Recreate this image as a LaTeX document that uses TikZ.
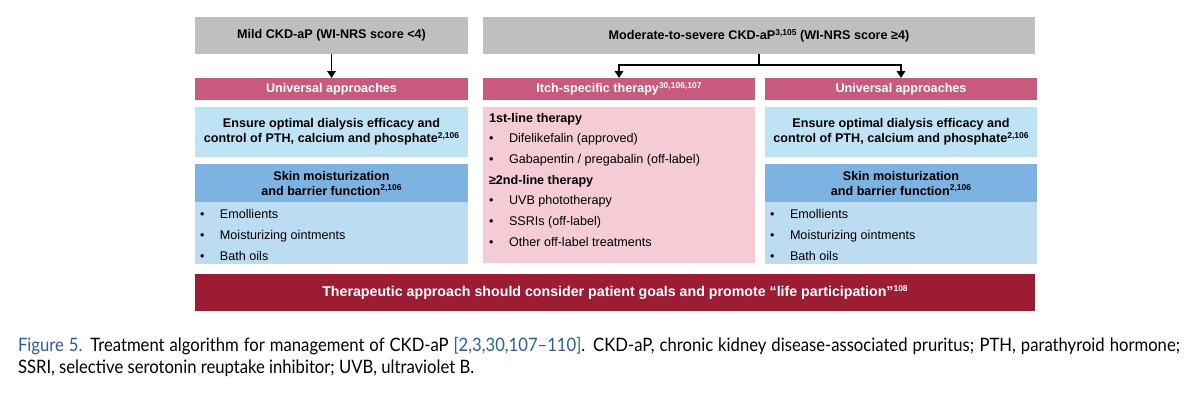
\documentclass[tikz,border=0pt]{standalone}
\usepackage{fontspec}
\setmainfont{Liberation Sans}
\newfontfamily\capfont[FakeStretch=0.9]{Lato}
\usetikzlibrary{arrows.meta}
\definecolor{greybox}{HTML}{BFBFBF}
\definecolor{pinkhead}{HTML}{C85A7D}
\definecolor{lightblue}{HTML}{BEE3F5}
\definecolor{skinblue}{HTML}{7DB3E2}
\definecolor{listblue}{HTML}{BCDCF1}
\definecolor{lightpink}{HTML}{F5CCD5}
\definecolor{darkred}{HTML}{9C1C34}
\definecolor{capblue}{HTML}{2F5DA0}
\newcommand{\supr}[1]{\raisebox{4.2pt}{\fontsize{8.5}{8.5}\selectfont #1}}
\newcommand{\bul}{\makebox[20pt][l]{•}}
\tikzset{
  blk/.style={inner sep=0pt, outer sep=0pt, draw=none},
  greyb/.style={blk, fill=greybox, font=\bfseries\fontsize{12.6}{15}\selectfont},
  headb/.style={blk, fill=pinkhead, text=white, font=\bfseries\fontsize{12.6}{15}\selectfont},
  ensureb/.style={blk, fill=lightblue, align=center, font=\bfseries\fontsize{12.6}{15}\selectfont},
  skinb/.style={blk, fill=skinblue, align=center, font=\bfseries\fontsize{12.6}{15}\selectfont},
  listb/.style={blk, fill=listblue},
  pinkb/.style={blk, fill=lightpink},
  itemtext/.style={blk, align=left, font=\fontsize{12.6}{21}\selectfont},
  pinktext/.style={blk, align=left, font=\fontsize{12.6}{20.7}\selectfont},
  goalb/.style={blk, fill=darkred, text=white, font=\bfseries\fontsize{14.2}{16}\selectfont},
  line/.style={line width=1.9pt, black},
  conn/.style={line, -{Triangle[length=7pt,width=8.5pt]}},
  captext/.style={blk, anchor=base west, font=\capfont\fontsize{18.5}{22}\selectfont}
}
\begin{document}
\begin{tikzpicture}[x=1pt,y=-1pt]
\fill[white] (0,0) rectangle (1200,394);
\useasboundingbox (0,0) rectangle (1200,394);

% top boxes
\node[greyb, minimum width=273, minimum height=37] (mild) at (331.5,35.5) {Mild CKD-aP (WI-NRS score <4)};
\node[greyb, minimum width=552, minimum height=37] (mod) at (759,35.5) {Moderate-to-severe CKD-aP\supr{3,105} (WI-NRS score ≥4)};

% headers
\node[headb, minimum width=273, minimum height=21.5] (lu) at (331.5,88.75) {Universal approaches};
\node[headb, minimum width=272, minimum height=21.5] (itch) at (619,88.75) {Itch-specific therapy\supr{30,106,107}};
\node[headb, minimum width=272, minimum height=21.5] (ru) at (901,88.75) {Universal approaches};

% left column
\node[ensureb, minimum width=273, minimum height=50] (le) at (331.5,132) {Ensure optimal dialysis efficacy and\\control of PTH, calcium and phosphate\supr{2,106}};
\node[skinb, minimum width=273, minimum height=38] (ls) at (331.5,183) {Skin moisturization\\and barrier function\supr{2,106}};
\node[listb, minimum width=273, minimum height=62] (ll) at (331.5,233) {};
\node[itemtext, anchor=west] (llt) at (200,235) {\bul Emollients\\\bul Moisturizing ointments\\\bul Bath oils};

% right column
\node[ensureb, minimum width=272, minimum height=50] (re) at (901,132) {Ensure optimal dialysis efficacy and\\control of PTH, calcium and phosphate\supr{2,106}};
\node[skinb, minimum width=272, minimum height=38] (rs) at (901,183) {Skin moisturization\\and barrier function\supr{2,106}};
\node[listb, minimum width=272, minimum height=62] (rl) at (901,233) {};
\node[itemtext, anchor=west] (rlt) at (770,235) {\bul Emollients\\\bul Moisturizing ointments\\\bul Bath oils};

% middle column
\node[pinkb, minimum width=272, minimum height=156] (il) at (619,185) {};
\node[pinktext, anchor=north west] (ilt) at (489,113) {\textbf{1st-line therapy}\\\bul Difelikefalin (approved)\\\bul Gabapentin / pregabalin (off-label)\\\textbf{≥2nd-line therapy}\\\bul UVB phototherapy\\\bul SSRIs (off-label)\\\bul Other off-label treatments};

% bottom bar
\node[goalb, minimum width=840, minimum height=37] (goal) at (615,292.5) {Therapeutic approach should consider patient goals and promote “life participation”\supr{108}};

% connectors
\draw[conn] (mild.south) -- (lu.north);
\coordinate (j) at (759,65);
\coordinate (jl) at (619,65);
\coordinate (jr) at (901,65);
\draw[line] (mod.south) -- (j);
\draw[line, line cap=rect] (jl) -- (jr);
\draw[conn] (jl) -- (itch.north);
\draw[conn] (jr) -- (ru.north);

% caption
\node[captext] (cap1) at (18,351) {\makebox[1162pt][s]{\textcolor{capblue}{Figure 5.} Treatment algorithm for management of CKD-aP \textcolor{capblue}{[2,3,30,107–110]}. CKD-aP, chronic kidney disease-associated pruritus; PTH, parathyroid hormone;}};
\node[captext] (cap2) at (18,373) {SSRI, selective serotonin reuptake inhibitor; UVB, ultraviolet B.};
\end{tikzpicture}
\end{document}
